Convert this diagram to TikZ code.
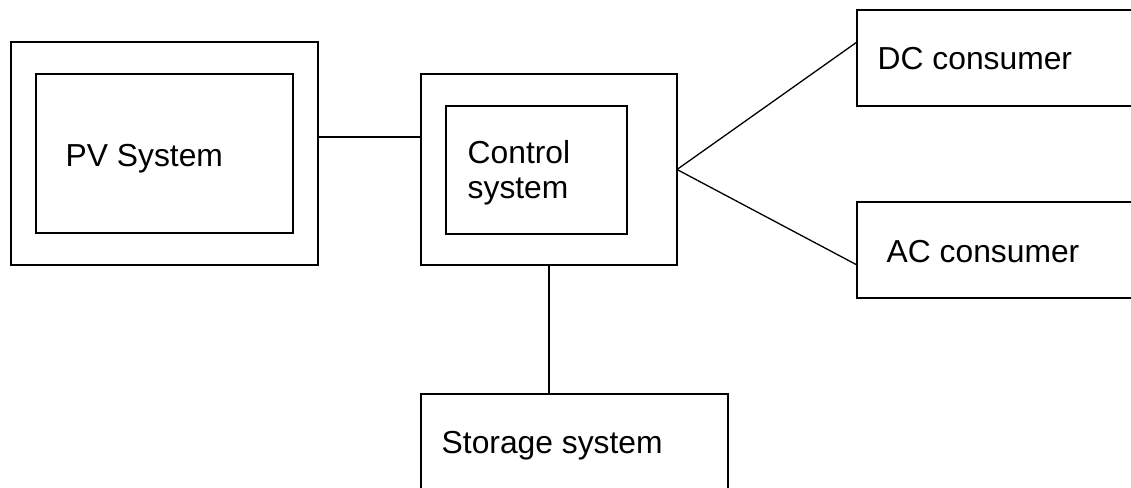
\documentclass[tikz,border=0pt]{standalone}
\usepackage{fontspec}
\setmainfont{Liberation Sans}
\begin{document}
\begin{tikzpicture}[x=1pt,y=-1pt,
  line width=1.4pt,
  box/.style={draw=black, rectangle, inner sep=0pt, outer sep=0pt},
  label/.style={anchor=base west, inner sep=0pt, font=\fontsize{31.8}{35}\selectfont},
  wire/.style={draw=black, line width=1.3pt}]
  \useasboundingbox (0,0) rectangle (1131,487);
  \clip (0,0) rectangle (1131,487);
  \fill[white] (0,0) rectangle (1131,487);

  % PV system: outer frame and inner panel
  \node[box, minimum width=307pt, minimum height=223pt] (pvout) at (164.5,153.5) {};
  \node[box, minimum width=257pt, minimum height=159pt] (pvin) at (164.5,153.5) {};
  \node[label] (pvtxt) at (65,166) {PV System};

  % Control system: outer frame and inner panel
  \node[box, minimum width=256pt, minimum height=191pt] (ctlout) at (549,169.5) {};
  \node[box, minimum width=181pt, minimum height=128pt] (ctlin) at (536.5,170) {};
  \node[label] (ctltxta) at (467,163) {Control};
  \node[label] (ctltxtb) at (467,198) {system};

  % Consumers (right-hand boxes run past the edge)
  \node[box, minimum width=320pt, minimum height=96pt] (dc) at (1017,58) {};
  \node[label] (dctxt) at (877,70) {DC consumer};
  \node[box, minimum width=320pt, minimum height=96pt] (ac) at (1017,250) {};
  \node[label] (actxt) at (886,262) {AC consumer};

  % Storage (runs past the bottom edge)
  \node[box, minimum width=307pt, minimum height=130pt] (st) at (574.5,459) {};
  \node[label] (sttxt) at (441,453) {Storage system};

  % Connection points
  \coordinate (pvport) at ([yshift=16.5pt]pvout.east);
  \coordinate (dcport) at ([yshift=16pt]dc.west);
  \coordinate (acport) at ([yshift=-15pt]ac.west);

  % Wiring
  \draw[wire] (pvport) -- (pvport -| ctlout.west);
  \draw[wire] (dcport) -- (ctlout.east) -- (acport);
  \draw[wire] (ctlout.south) -- (st.north -| ctlout.south);
\end{tikzpicture}
\end{document}
